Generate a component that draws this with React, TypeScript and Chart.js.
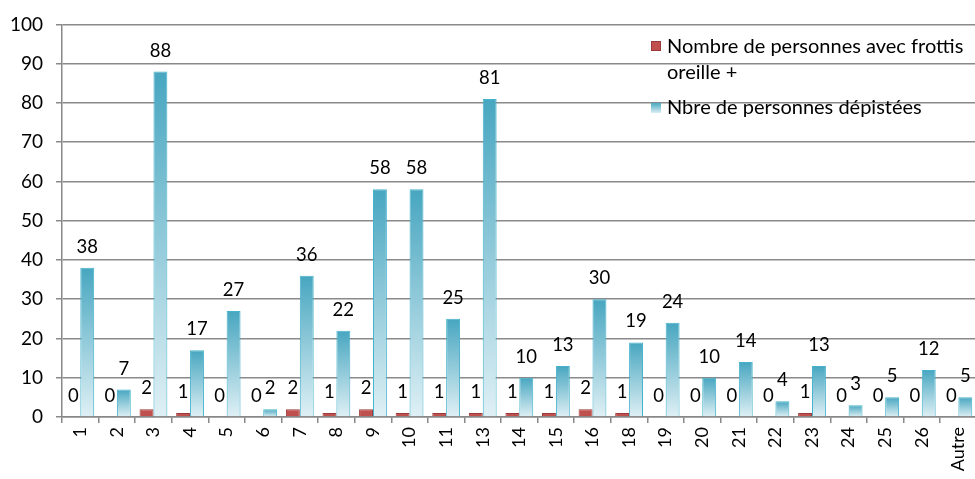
import React, { useEffect, useRef } from "react";
import { Chart, registerables } from "chart.js";

Chart.register(...registerables);

const categories = ["1","2","3","4","5","6","7","8","9","10","11","13","14","15","16","18","19","20","21","22","23","24","25","26","Autre"];
const frottisPositive = [0,0,2,1,0,0,2,1,2,1,1,1,1,1,2,1,0,0,0,0,1,0,0,0,0];
const depistees = [38,7,88,17,27,2,36,22,58,58,25,81,10,13,30,19,24,10,14,4,13,3,5,12,5];
const seriesLabels = ["Nombre de personnes avec frottis|oreille +", "Nbre de personnes dépistées"];
const yTicks = [0,10,20,30,40,50,60,70,80,90,100];

const FONT = "Lato, 'Open Sans', sans-serif";

const labelPlugin = {
  id: "valueLabels",
  afterDatasetsDraw(chart: any) {
    const ctx = chart.ctx;
    ctx.save();
    ctx.font = `18.5px ${FONT}`;
    ctx.fillStyle = "#000";
    ctx.textAlign = "center";
    ctx.textBaseline = "alphabetic";
    chart.data.datasets.forEach((ds: any, di: number) => {
      const meta = chart.getDatasetMeta(di);
      meta.data.forEach((el: any, i: number) => {
        ctx.fillText(String(ds.data[i]), el.x, el.y - 15);
      });
    });
    ctx.restore();
  },
};

const legendPlugin = {
  id: "customLegend",
  afterDraw(chart: any) {
    const ctx = chart.ctx;
    ctx.save();
    ctx.font = `20px ${FONT}`;
    ctx.textBaseline = "middle";
    ctx.textAlign = "left";
    const x0 = 651;
    const tx = 667;
    ctx.fillStyle = "#c0504d";
    ctx.fillRect(x0, 41, 10, 10);
    ctx.strokeStyle = "#9b3a38";
    ctx.lineWidth = 1;
    ctx.strokeRect(x0 + 0.5, 41.5, 9, 9);
    ctx.fillStyle = "#000";
    const lines = seriesLabels[0].split("|");
    ctx.fillText(lines[0], tx, 47);
    ctx.fillText(lines[1], tx, 73);
    const g = ctx.createLinearGradient(0, 103, 0, 113);
    g.addColorStop(0, "#4aa9c2");
    g.addColorStop(1, "#dceef4");
    ctx.fillStyle = g;
    ctx.fillRect(x0, 103, 10, 10);
    ctx.fillStyle = "#000";
    ctx.fillText(seriesLabels[1], tx, 108);
    ctx.restore();
  },
};

function blueGradient(context: any) {
  const chart = context.chart;
  const yScale = chart.scales && chart.scales.y;
  if (!yScale || context.dataIndex === undefined) return "#7cc3d6";
  const v = depistees[context.dataIndex];
  const top = yScale.getPixelForValue(v);
  const bottom = yScale.getPixelForValue(0);
  if (!isFinite(top) || !isFinite(bottom) || top === bottom) return "#4aa9c2";
  const g = chart.ctx.createLinearGradient(0, top, 0, bottom);
  g.addColorStop(0, "#47a6c0");
  g.addColorStop(1, "#dff0f5");
  return g;
}

export default function App() {
  const ref = useRef<HTMLCanvasElement | null>(null);
  useEffect(() => {
    if (!ref.current) return;
    const chart = new Chart(ref.current, {
      type: "bar",
      data: {
        labels: categories,
        datasets: [
          {
            label: seriesLabels[0].replace("|", " "),
            data: frottisPositive,
            backgroundColor: "#c0504d",
            borderColor: "#9b3a38",
            borderWidth: 1,
            categoryPercentage: 0.76,
            barPercentage: 1.0,
          },
          {
            label: seriesLabels[1],
            data: depistees,
            backgroundColor: blueGradient,
            borderColor: "#45b3cc",
            borderWidth: { top: 1, left: 1, right: 1, bottom: 0 },
            categoryPercentage: 0.76,
            barPercentage: 1.0,
          },
        ],
      },
      options: {
        animation: false,
        responsive: false,
        maintainAspectRatio: false,
        layout: { padding: { top: 24, right: 2, bottom: 0, left: 0 } },
        plugins: {
          legend: { display: false },
          tooltip: { enabled: false },
        },
        scales: {
          x: {
            grid: {
              drawOnChartArea: false,
              drawTicks: true,
              tickLength: 6,
              color: "#888",
              lineWidth: 1.5,
            },
            border: { color: "#888", width: 1.5 },
            ticks: {
              minRotation: 90,
              maxRotation: 90,
              padding: 4,
              color: "#000",
              font: { family: FONT, size: 18 },
            },
            afterFit(scale: any) {
              scale.height = 62;
            },
          },
          y: {
            min: 0,
            max: 100,
            afterBuildTicks(scale: any) {
              scale.ticks = yTicks.map((v) => ({ value: v }));
            },
            grid: {
              color: "#8a8a8a",
              lineWidth: 1.5,
              tickLength: 6,
            },
            border: { color: "#888", width: 1.5 },
            ticks: {
              padding: 13,
              color: "#000",
              font: { family: FONT, size: 19 },
            },
            afterFit(scale: any) {
              scale.width = 62;
            },
          },
        },
      },
      plugins: [labelPlugin, legendPlugin],
    });
    return () => chart.destroy();
  }, []);
  return (
    <div style={{ position: "fixed", left: 0, top: 0, width: 984, height: 479, background: "#fff" }}>
      <canvas ref={ref} width={984} height={479} style={{ width: 984, height: 479, display: "block" }} />
    </div>
  );
}
